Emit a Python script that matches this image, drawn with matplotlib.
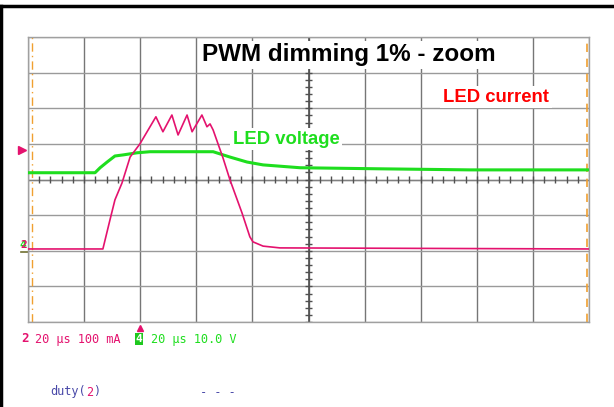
import numpy as np
import matplotlib
matplotlib.use('Agg')
import matplotlib.pyplot as plt
from matplotlib.lines import Line2D

# scope capture: 20 us/div, ch2 current 100 mA/div, ch4 voltage 10 V/div
t_cur = [0, 26.7, 29.2, 31.0, 33.5, 36.4, 39.9, 45.6, 48.1, 51.3, 53.5, 56.7,
         58.5, 62.0, 63.8, 64.9, 66.0, 69.5, 72.0, 76.3, 79.1, 80.2, 83.8, 89.8, 200]
i_led = [5, 5, 86, 143, 190, 263, 300, 376, 334, 381, 325, 381,
         334, 381, 348, 356, 339, 261, 199, 106, 39, 25, 13, 8, 5]  # mA

t_volt = [0, 23.9, 25.7, 28.2, 31.0, 33.9, 38.9, 43.5, 66.0, 68.4, 72.0,
          78.1, 83.8, 97.0, 125.5, 157.6, 200]
v_led = [21.9, 21.9, 23.3, 24.9, 26.6, 26.9, 27.5, 27.8, 27.8, 27.2, 26.3,
         24.9, 24.1, 23.3, 23.0, 22.7, 22.7]  # V

trig_level = 284  # mA

pink = '#e4126e'
green = '#1ede1e'
orange = '#f0a030'

fig = plt.figure(figsize=(6.14, 4.07), dpi=100)
ax = fig.add_axes([28/614, 85/407, 561/614, 285/407])
ax.set_xlim(0, 200)
ax.set_ylim(-200, 600)
ax.set_xticks(np.arange(0, 201, 20))
ax.set_yticks(np.arange(-200, 601, 100))
ax.tick_params(length=0, labelbottom=False, labelleft=False)
ax.grid(axis='x', color='#767676', lw=1.0)
ax.grid(axis='y', color='#9a9a9a', lw=1.0)
for s in ax.spines.values():
    s.set_color('#a0a0a0')
    s.set_linewidth(1.0)

# centre cross with minor ticks
ax.axvline(100, color='#505050', lw=1.2)
ax.axhline(200, color='#808080', lw=1.0)
ax.vlines(np.arange(4, 200, 4), 191, 209, color='#505050', lw=1.0)
ax.hlines(np.arange(-200, 600, 20), 98.6, 101.4, color='#505050', lw=1.0)

# cursors
ax.axvline(1.6, color=orange, lw=1.0, ls=(0, (6, 3, 1, 3)))
ax.axvline(199.2, color=orange, lw=1.2, ls=(0, (5, 4)))

axv = ax.twinx()
axv.set_ylim(-20, 60)
axv.axis('off')
axv.plot(t_volt, v_led, color=green, lw=2.2, solid_capstyle='butt')

axc = ax.twinx()
axc.set_ylim(-200, 600)
axc.axis('off')
axc.plot(t_cur, i_led, color=pink, lw=1.2)

# left side markers
yt = ax.get_yaxis_transform()
ax.plot([-0.01], [trig_level], marker='>', color=pink, ms=6, transform=yt, clip_on=False)
ax.plot([-0.012, 0], [-3, -3], color='#707030', lw=1.2, transform=yt, clip_on=False)
ax.text(-0.009, 2, '4', color=green, fontsize=8, fontweight='bold', ha='center', va='bottom',
        transform=yt, clip_on=False, family='DejaVu Sans Mono')
ax.text(-0.007, 2, '2', color=pink, fontsize=8, fontweight='bold', ha='center', va='bottom',
        transform=yt, clip_on=False, family='DejaVu Sans Mono')
ax.plot([40], [-0.02], marker='^', color=pink, ms=5, transform=ax.get_xaxis_transform(),
        clip_on=False)

box = dict(facecolor='white', edgecolor='none', pad=2)
ax.text(349/614, 1 - 55/407, 'PWM dimming 1% - zoom', transform=fig.transFigure,
        ha='center', va='center', fontsize=17.5, fontweight='bold', family='Liberation Sans',
        color='black', bbox=box, zorder=5)
ax.text(496/614, 1 - 97/407, 'LED current', transform=fig.transFigure,
        ha='center', va='center', fontsize=13.3, fontweight='bold', family='Liberation Sans',
        color='#ff0000', bbox=box, zorder=5)
ax.text(286/614, 1 - 139/407, 'LED voltage', transform=fig.transFigure,
        ha='center', va='center', fontsize=13.3, fontweight='bold', family='Liberation Sans',
        color=green, bbox=box, zorder=5)

# status line below the screen
mono = 'DejaVu Sans Mono'
fig.text(21/614, 1 - 339/407, '2', color=pink, fontsize=9, fontweight='bold', family=mono, va='center')
fig.text(35/614, 1 - 339/407, '20 µs 100 mA', color=pink, fontsize=8.6, family=mono, va='center')
fig.text(139/614, 1 - 339/407, '4', color='white', fontsize=8, fontweight='bold', family=mono,
         va='center', ha='center', bbox=dict(facecolor='#1ec81e', edgecolor='none', pad=0.8))
fig.text(151/614, 1 - 339/407, '20 µs 10.0 V', color=green, fontsize=8.6, family=mono, va='center')
fig.text(50/614, 1 - 392/407, 'duty(', color='#4848a8', fontsize=8.6, family=mono, va='center')
fig.text(86/614, 1 - 392/407, '2', color=pink, fontsize=8.6, family=mono, va='center')
fig.text(93.5/614, 1 - 392/407, ')', color='#4848a8', fontsize=8.6, family=mono, va='center')
fig.text(200/614, 1 - 392/407, '- - -', color='#4848a8', fontsize=8.6, family=mono, va='center')

# black frame remains from the page
fig.add_artist(Line2D([0, 1], [1 - 5.5/407, 1 - 5.5/407], color='black', lw=2.5))
fig.add_artist(Line2D([1/614, 1/614], [0, 1 - 5.5/407], color='black', lw=2.5))

fig.savefig('out.png', dpi=100)
